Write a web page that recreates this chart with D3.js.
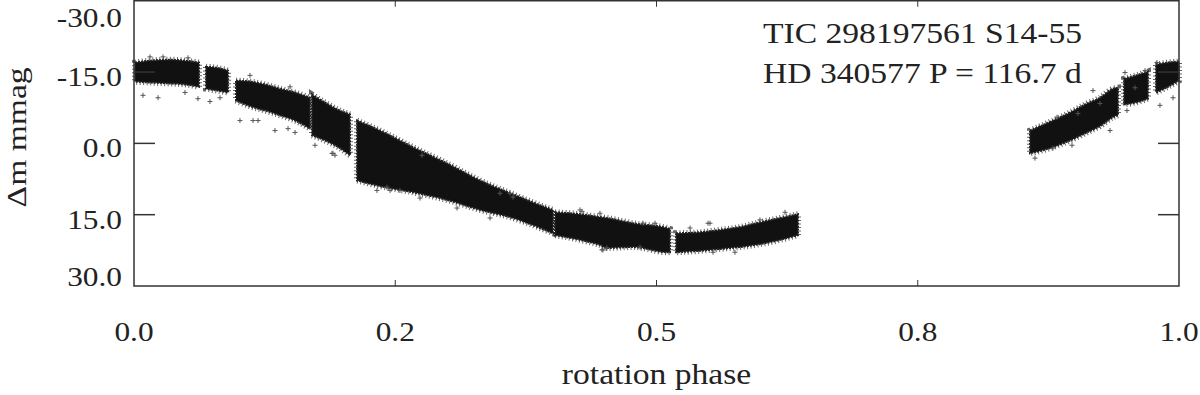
<!DOCTYPE html>
<html>
<head>
<meta charset="utf-8">
<script src="https://cdn.jsdelivr.net/npm/d3@7"></script>
<style>
  body { margin: 0; background: #fff; }
  text { font-family: "Liberation Serif", "Times New Roman", serif; fill: #222; }
</style>
</head>
<body>
<div id="container"></div>
<script>
// envelope of the phased light curve, one entry per sample
const phase  = [0.001, 0.0153, 0.0344, 0.0488, 0.0622,
                0.0689, 0.0794, 0.0900,
                0.0976, 0.111, 0.1254, 0.1397, 0.1541, 0.1684,
                0.1703, 0.1828, 0.1971, 0.2067,
                0.2134, 0.2354, 0.2670, 0.2995, 0.3311, 0.3627, 0.3885, 0.4010,
                0.4029, 0.4268, 0.4459, 0.4526, 0.4775, 0.5100, 0.5129,
                0.5187, 0.5416, 0.5608, 0.5799, 0.5990, 0.6182, 0.6354,
                0.8574, 0.8794, 0.8957, 0.9120, 0.9244, 0.9368, 0.9416,
                0.9474, 0.9589, 0.9703,
                0.978, 0.9895, 1.0]
const bright = [-17.0, -17.4, -17.6, -17.4, -17.0,
                -16.1, -15.9, -15.3,
                -13.2, -13.0, -12.4, -11.5, -10.7, -9.6,
                -10.3, -8.6, -6.9, -6.1,
                -4.8, -2.7, 0.8, 4.2, 7.8, 10.7, 13.0, 14.0,
                14.5, 14.9, 15.5, 15.7, 16.8, 17.8, 18.0,
                18.9, 18.7, 18.2, 17.6, 16.6, 15.7, 14.9,
                -2.7, -4.8, -6.5, -8.4, -9.6, -11.5, -11.7,
                -13.6, -14.3, -15.1,
                -16.6, -17.0, -17.2]
const faint  = [-13.0, -12.8, -12.6, -12.4, -11.9,
                -11.5, -11.1, -10.7,
                -9.0, -7.8, -6.9, -5.9, -4.8, -3.1,
                -1.7, -0.6, 1.0, 2.5,
                7.8, 9.0, 10.3, 11.9, 14.0, 15.7, 17.8, 18.9,
                19.3, 20.3, 21.4, 22.0, 21.8, 22.9, 22.9,
                22.9, 22.6, 22.2, 21.8, 21.2, 20.3, 19.3,
                2.1, 0.8, -0.6, -2.3, -3.6, -5.5, -5.9,
                -8.2, -8.6, -9.4,
                -10.7, -11.9, -13.2]
const run    = [0, 0, 0, 0, 0,
                1, 1, 1,
                2, 2, 2, 2, 2, 2,
                3, 3, 3, 3,
                4, 4, 4, 4, 4, 4, 4, 4,
                5, 5, 5, 5, 5, 5, 5,
                6, 6, 6, 6, 6, 6, 6,
                7, 7, 7, 7, 7, 7, 7,
                8, 8, 8,
                9, 9, 9]

// scattered single points off the band
const outPhase = [0.0086, 0.0230, 0.0488, 0.0612, 0.0727, 0.0823, 0.1014, 0.1139, 0.1187, 0.1349,
                  0.1541, 0.1732, 0.1110, 0.1493, 0.0153, 0.0278, 0.0517, 0.1904, 0.2325, 0.2737,
                  0.2545, 0.3091, 0.2421, 0.4478, 0.4526, 0.4268, 0.4459, 0.3502, 0.3627, 0.6230,
                  0.5990, 0.5512, 0.5751, 0.5541, 0.8622, 0.8794, 0.8976, 0.9340, 0.9177, 0.9483,
                  0.9675, 0.9502, 0.9818, 0.9943, 0.9789,
                  0.1474, 0.1895, 0.1923, 0.2450, 0.3407, 0.2756, 0.3598, 0.4287, 0.4871, 0.4986,
                  0.5321, 0.5493, 0.4488, 0.4842, 0.8833, 0.9033, 0.9244, 0.9579]
const outMag   = [-10.1, -9.6, -10.7, -9.4, -8.8, -9.6, -4.8, -4.8, -4.8, -2.7,
                  -2.3, 0.4, -14.3, -11.9, -18.2, -18.2, -18.0, 2.1, 9.9, 11.5,
                  9.9, 13.6, 9.2, 22.4, 22.0, 14.0, 14.7, 10.5, 11.3, 14.5,
                  16.1, 16.8, 22.9, 22.9, 3.1, 1.0, 0.4, -2.7, -11.1, -14.9,
                  -15.3, -6.9, -8.0, -9.6, -17.0,
                  -3.1, 2.1, 2.5, 9.9, 15.7, 2.5, 10.5, 14.3, 16.8, 16.8,
                  17.8, 16.8, 22.4, 21.8, -5.5, -6.3, -8.4, -11.7]

const xTicks = [0, 0.25, 0.5, 0.75, 1]
const xTickLabels = ['0.0', '0.2', '0.5', '0.8', '1.0']
const yTicks = [-30, -15, 0, 15, 30]
const yTickLabels = ['-30.0', '-15.0', '0.0', '15.0', '30.0']
const titleLines = ['TIC 298197561 S14-55', 'HD 340577 P = 116.7 d']

const w = 1200
const h = 395
const margin = { left: 134, right: 21, top: 0.75, bottom: 109 }

const x = d3.scaleLinear().domain([0, 1]).range([margin.left, w - margin.right])
const y = d3.scaleLinear().domain([-30, 30]).range([margin.top, h - margin.bottom])

const svg = d3.select('#container')
  .append('svg')
  .attr('width', w)
  .attr('height', h)

//DATA BAND
const rows = phase.map((p, i) => ({ p, b: bright[i], f: faint[i], r: run[i] }))
const runs = d3.groups(rows, d => d.r).map(d => d[1])

const area = d3.area()
  .x(d => x(d.p))
  .y0(d => y(d.f))
  .y1(d => y(d.b))
  .curve(d3.curveMonotoneX)

const band = svg.append('g')

// grey halo of crosses along the edges
band.selectAll('path.halo')
  .data(runs)
  .enter()
  .append('path')
  .attr('class', 'halo')
  .attr('d', area)
  .attr('fill', 'none')
  .attr('stroke', '#666')
  .attr('stroke-width', 6)
  .attr('stroke-dasharray', '1 2.5')

band.selectAll('path.core')
  .data(runs)
  .enter()
  .append('path')
  .attr('class', 'core')
  .attr('d', area)
  .attr('fill', '#111')
  .attr('stroke', '#222')
  .attr('stroke-width', 2)
  .attr('stroke-dasharray', '2 1')

//OUTLIERS
svg.append('g')
  .selectAll('path')
  .data(outPhase.map((p, i) => [p, outMag[i]]))
  .enter()
  .append('path')
  .attr('transform', d => `translate(${x(d[0])},${y(d[1])})`)
  .attr('d', 'M-2.5,0H2.5M0,-2.5V2.5')
  .attr('stroke', '#555')
  .attr('stroke-width', 1)

//FRAME AND TICKS
const x0 = x.range()[0], x1 = x.range()[1]
const y0 = y.range()[0], y1 = y.range()[1]
const axis = svg.append('g')
  .attr('stroke', '#333')
  .attr('stroke-width', 1.5)
  .attr('fill', 'none')

axis.append('rect')
  .attr('x', x0)
  .attr('y', y0)
  .attr('width', x1 - x0)
  .attr('height', y1 - y0)

yTicks.slice(1, -1).forEach(t => {
  axis.append('line').attr('x1', x0).attr('x2', x0 + 21).attr('y1', y(t)).attr('y2', y(t))
  axis.append('line').attr('x1', x1).attr('x2', x1 - 21).attr('y1', y(t)).attr('y2', y(t))
})
xTicks.slice(1, -1).forEach(t => {
  axis.append('line').attr('x1', x(t)).attr('x2', x(t)).attr('y1', y1).attr('y2', y1 - 6).attr('stroke-width', 1)
  axis.append('line').attr('x1', x(t)).attr('x2', x(t)).attr('y1', y0).attr('y2', y0 + 6).attr('stroke-width', 1)
})

//LABELS
const stretch = 1.12

svg.selectAll('.ylab')
  .data(yTicks)
  .enter()
  .append('text')
  .attr('class', 'ylab')
  .attr('text-anchor', 'end')
  .attr('font-size', 28)
  .attr('transform', (d, i) => {
    let ty = y(d) + 14
    if (i === 0) ty = 27
    if (i === yTicks.length - 1) ty = 286
    return `translate(122,${ty}) scale(${stretch},1)`
  })
  .text((d, i) => yTickLabels[i])

svg.selectAll('.xlab')
  .data(xTicks)
  .enter()
  .append('text')
  .attr('class', 'xlab')
  .attr('text-anchor', 'middle')
  .attr('font-size', 28)
  .attr('transform', d => `translate(${x(d)},341) scale(${stretch},1)`)
  .text((d, i) => xTickLabels[i])

svg.append('text')
  .attr('text-anchor', 'middle')
  .attr('font-size', 30)
  .attr('transform', `translate(${(x0 + x1) / 2},384) scale(${stretch},1)`)
  .text('rotation phase')

svg.append('text')
  .attr('text-anchor', 'middle')
  .attr('font-size', 28)
  .attr('transform', `translate(26,${y(0) - 6}) rotate(-90) scale(1.2,1)`)
  .text('Δm mmag')

svg.selectAll('.title')
  .data(titleLines)
  .enter()
  .append('text')
  .attr('class', 'title')
  .attr('font-size', 30)
  .attr('transform', (d, i) => `translate(763,${43 + i * 40}) scale(${stretch},1)`)
  .text(d => d)
</script>
</body>
</html>
